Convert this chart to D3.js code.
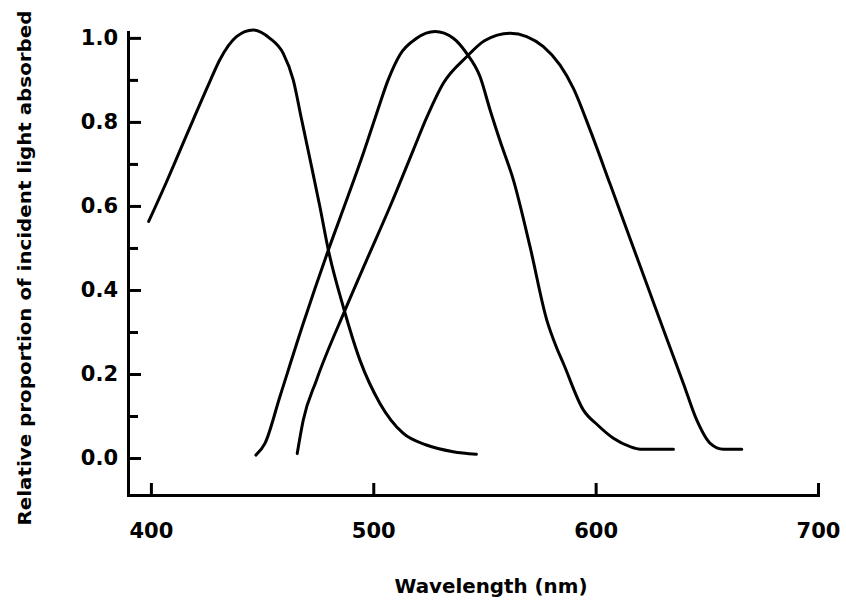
<!DOCTYPE html>
<html>
<head>
<meta charset="utf-8">
<script src="https://cdn.jsdelivr.net/npm/d3@7"></script>
<style>
  html, body { margin: 0; padding: 0; background: #fff; }
  svg { display: block; }
  text { font-family: "DejaVu Sans", sans-serif; font-weight: bold; fill: #000; }
</style>
</head>
<body>
<svg id="chart" width="846" height="605"></svg>
<script>
// ---- Data ----
const sWave = [399, 407, 413, 419, 426.5, 431, 438.5, 446, 453.5, 459.5, 464, 467.8, 471.6, 476, 479.8, 486.5, 494, 503, 513.4, 523.9, 535.9, 546.4];
const sValue = [0.563, 0.657, 0.731, 0.805, 0.896, 0.948, 1.003, 1.019, 0.999, 0.963, 0.9, 0.805, 0.71, 0.598, 0.495, 0.36, 0.233, 0.13, 0.059, 0.031, 0.015, 0.009];

const mWave = [447.2, 451.3, 458, 468.5, 479.8, 488, 495.5, 501.5, 506.7, 512, 519.5, 527.8, 536, 542, 548, 552.5, 557, 563, 570.5, 578, 582.5, 585.5, 594.5, 601, 608, 615.5, 620, 635];
const mValue = [0.007, 0.035, 0.146, 0.32, 0.495, 0.614, 0.725, 0.82, 0.9, 0.96, 0.999, 1.015, 0.999, 0.963, 0.908, 0.829, 0.755, 0.662, 0.503, 0.329, 0.262, 0.225, 0.114, 0.078, 0.047, 0.027, 0.021, 0.021];

const lWave = [465.8, 468.5, 474.5, 487.3, 497, 507.5, 518, 524, 531.5, 542, 550, 561.5, 569, 576.5, 584, 590, 597.5, 606.5, 615.5, 624.5, 632, 639.5, 645.5, 651.5, 657.5, 665.7];
const lValue = [0.011, 0.09, 0.186, 0.352, 0.471, 0.598, 0.733, 0.81, 0.892, 0.955, 0.993, 1.011, 1.003, 0.979, 0.935, 0.88, 0.781, 0.652, 0.522, 0.392, 0.284, 0.177, 0.09, 0.035, 0.021, 0.021];

const xTicks = [400, 500, 600, 700];
const yMajorTicks = [0.0, 0.2, 0.4, 0.6, 0.8, 1.0];
const yMinorTicks = [0.1, 0.3, 0.5, 0.7, 0.9];

const xTitle = "Wavelength (nm)";
const yTitle = "Relative proportion of incident light absorbed";

// ---- Chart ----
const svg = d3.select("#chart");

const x = d3.scaleLinear().domain([389.7, 700]).range([128, 818]);
const y = d3.scaleLinear().domain([-0.088, 1.014]).range([495, 32]);

const series = [
  { w: sWave, v: sValue },
  { w: mWave, v: mValue },
  { w: lWave, v: lValue }
];

const line = d3.line()
  .x(d => x(d[0]))
  .y(d => y(d[1]))
  .curve(d3.curveMonotoneX);

svg.append("g")
  .selectAll("path")
  .data(series)
  .join("path")
  .attr("d", s => line(s.w.map((w, i) => [w, s.v[i]])))
  .attr("fill", "none")
  .attr("stroke", "#000")
  .attr("stroke-width", 3)
  .attr("stroke-linejoin", "round")
  .attr("stroke-linecap", "round");

// X axis
const gx = svg.append("g")
  .attr("transform", `translate(0,${y.range()[0]})`)
  .call(d3.axisBottom(x)
    .tickValues(xTicks)
    .tickFormat(d3.format("d"))
    .tickSizeInner(-12)
    .tickSizeOuter(0)
    .tickPadding(28));

// Y axis (major)
const gy = svg.append("g")
  .attr("transform", `translate(${x.range()[0]},0)`)
  .call(d3.axisLeft(y)
    .tickValues(yMajorTicks)
    .tickFormat(d3.format(".1f"))
    .tickSizeInner(-13)
    .tickSizeOuter(0)
    .tickPadding(10));

// Y axis (minor)
const gyMinor = svg.append("g")
  .attr("transform", `translate(${x.range()[0]},0)`)
  .call(d3.axisLeft(y)
    .tickValues(yMinorTicks)
    .tickFormat("")
    .tickSizeInner(-10)
    .tickSizeOuter(0));
gyMinor.select(".domain").remove();

[gx, gy, gyMinor].forEach(g => {
  g.selectAll(".domain").attr("stroke", "#000").attr("stroke-width", 3).attr("stroke-linecap", "square");
  g.selectAll(".tick line").attr("stroke", "#000").attr("stroke-width", 3);
  g.selectAll(".tick text")
    .attr("font-family", "'DejaVu Sans', sans-serif")
    .attr("font-weight", "bold")
    .attr("font-size", 21)
    .attr("fill", "#000");
});

// Axis titles
svg.append("text")
  .attr("x", 491)
  .attr("y", 593)
  .attr("text-anchor", "middle")
  .attr("font-size", 19)
  .attr("textLength", 193)
  .attr("lengthAdjust", "spacingAndGlyphs")
  .text(xTitle);

svg.append("text")
  .attr("transform", "translate(31,268) rotate(-90)")
  .attr("text-anchor", "middle")
  .attr("font-size", 18)
  .attr("textLength", 515)
  .attr("lengthAdjust", "spacingAndGlyphs")
  .text(yTitle);
</script>
</body>
</html>
